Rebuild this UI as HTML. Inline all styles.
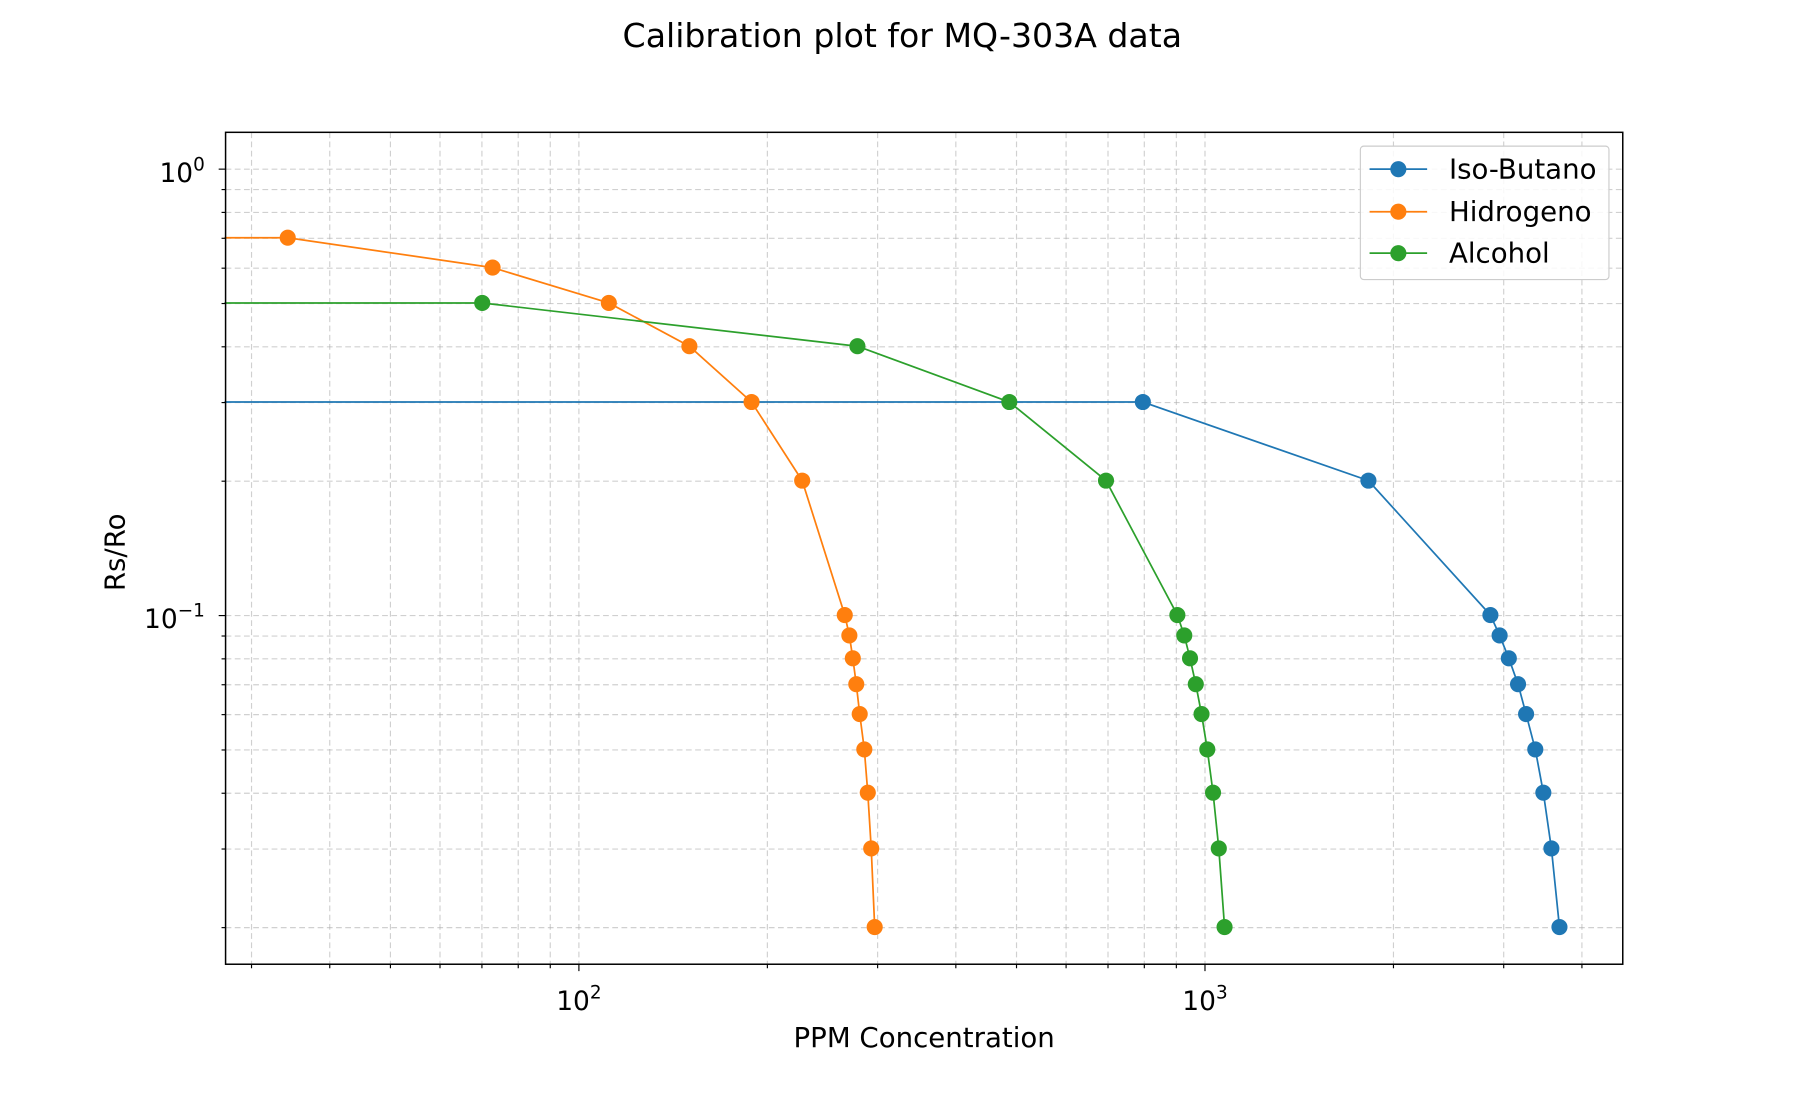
<!DOCTYPE html>
<html><head><style>html,body{margin:0;padding:0;background:#fff}svg{display:block}</style></head>
<body>
<svg id="s" width="1800" height="1100" viewBox="0 0 1564 956" preserveAspectRatio="none" xmlns="http://www.w3.org/2000/svg" font-family="DejaVu Sans, Liberation Sans, sans-serif">
<rect width="1564" height="956" fill="#fff"/>
<g id="grid"></g>
<g id="data"></g>
<rect x="196" y="115" width="1214" height="723" fill="none" stroke="#000" stroke-width="1.3"/>
<g id="ticks"></g>
<text x="784" y="41" font-size="28.8" text-anchor="middle">Calibration plot for MQ-303A data</text>
<text x="803" y="910" font-size="24" text-anchor="middle">PPM Concentration</text>
<text transform="translate(108,480) rotate(-90)" font-size="24" text-anchor="middle">Rs/Ro</text>
<g id="leg">
<rect x="1182" y="127" width="216" height="116" rx="3" fill="#fff" fill-opacity="0.85" stroke="#ccc"/>
<line x1="1190" y1="147" x2="1240" y2="147" stroke="#1f77b4" stroke-width="1.5"/><circle cx="1215" cy="147" r="7" fill="#1f77b4"/>
<text x="1259" y="155" font-size="24">Iso-Butano</text>
<line x1="1190" y1="184" x2="1240" y2="184" stroke="#ff7f0e" stroke-width="1.5"/><circle cx="1215" cy="184" r="7" fill="#ff7f0e"/>
<text x="1259" y="192" font-size="24">Hidrogeno</text>
<line x1="1190" y1="220" x2="1240" y2="220" stroke="#2ca02c" stroke-width="1.5"/><circle cx="1215" cy="220" r="7" fill="#2ca02c"/>
<text x="1259" y="228" font-size="24">Alcohol</text>
</g>
</svg>
<script>
var NS="http://www.w3.org/2000/svg";
function el(p,t,a,txt){var e=document.createElementNS(NS,t);for(var k in a)e.setAttribute(k,a[k]);if(txt)e.textContent=txt;p.appendChild(e);return e;}
function X(v){return 503+(Math.log10(v)-2)*544;}
function Y(v){return 147-Math.log10(v)*388;}
var g=document.getElementById('grid'),tk=document.getElementById('ticks');
var xs=[30,40,50,60,70,80,90,100,200,300,400,500,600,700,800,900,1000,2000,3000,4000];
xs.forEach(function(v){var x=X(v);var maj=(v==100||v==1000);
 el(g,'line',{x1:x,y1:115,x2:x,y2:838,stroke:'#b0b0b0','stroke-opacity':0.6,'stroke-dasharray':'5,3','stroke-width':1});
 el(tk,'line',{x1:x,y1:838,x2:x,y2:838+(maj?6:3.5),stroke:'#000','stroke-width':1});});
var ys=[0.02,0.03,0.04,0.05,0.06,0.07,0.08,0.09,0.1,0.2,0.3,0.4,0.5,0.6,0.7,0.8,0.9,1];
ys.forEach(function(v){var y=Y(v);var maj=(v==0.1||v==1);
 el(g,'line',{x1:196,y1:y,x2:1410,y2:y,stroke:'#b0b0b0','stroke-opacity':0.6,'stroke-dasharray':'5,3','stroke-width':1});
 el(tk,'line',{x1:196,y1:y,x2:196-(maj?6:3.5),y2:y,stroke:'#000','stroke-width':1});});
function sup(x,y,base,exp,anchor){var t=el(tk,'text',{x:x,y:y,'font-size':23,'text-anchor':anchor});
 el(t,'tspan',{},base);el(t,'tspan',{dy:-10,'font-size':16},exp);}
sup(503,878,'10','2','middle');sup(1047,878,'10','3','middle');
sup(178,158,'10','0','end');sup(178,546,'10','\u22121','end');
var ser=[
 ['#ff7f0e',[[196,.7],[251,.7],[429,.6],[530,.5],[600,.4],[654,.3],[698,.2],[735,.1],[739,.09],[742,.08],[745,.07],[748,.06],[752,.05],[755,.04],[758,.03],[761,.02]]],
 ['#2ca02c',[[196,.5],[420,.5],[746,.4],[878,.3],[962,.2],[1024,.1],[1030,.09],[1035,.08],[1040,.07],[1045,.06],[1050,.05],[1055,.04],[1060,.03],[1065,.02]]],
 ['#1f77b4',[[196,.3],[994,.3],[1190,.2],[1296,.1],[1304,.09],[1312,.08],[1320,.07],[1327,.06],[1335,.05],[1342,.04],[1349,.03],[1356,.02]]]
];
var d=document.getElementById('data');
[2,0,1].forEach(function(i){var s=ser[i];
 el(d,'polyline',{points:s[1].map(function(p){return (p[0]-1)+','+(Y(p[1])-0.5);}).join(' '),fill:'none',stroke:s[0],'stroke-width':1.5});
 s[1].forEach(function(p,j){if(j>0)el(d,'circle',{cx:p[0]-1,cy:Y(p[1])-0.5,r:7,fill:s[0]});});});
</script>
</body></html>
